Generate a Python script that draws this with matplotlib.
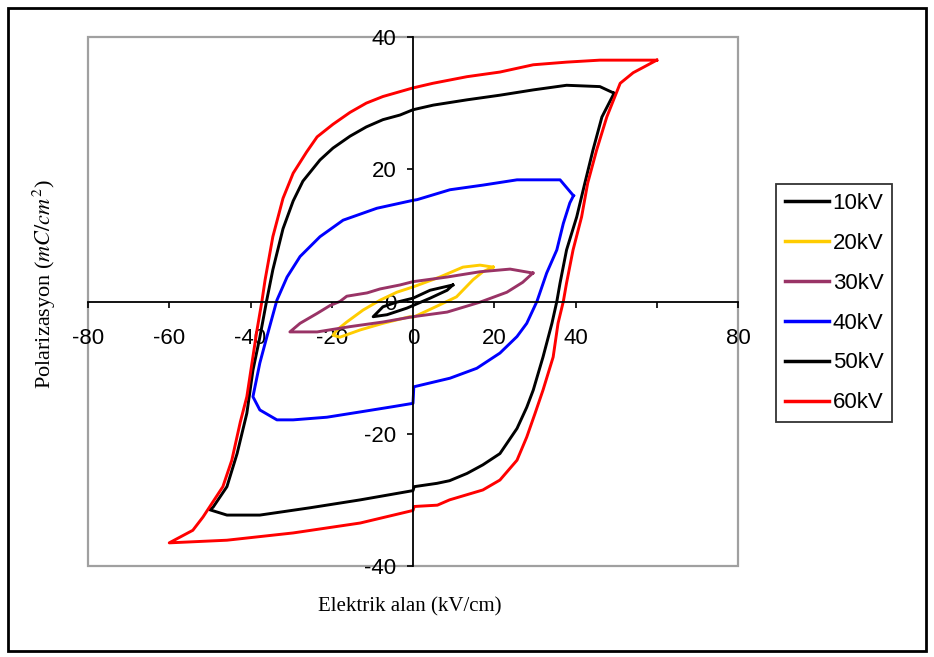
import matplotlib
matplotlib.use("Agg")
import matplotlib.pyplot as plt
from matplotlib.patches import Rectangle

plt.rcParams['font.family'] = ['Liberation Sans', 'DejaVu Sans']
plt.rcParams['mathtext.fontset'] = 'stix'
plt.rcParams['axes.unicode_minus'] = False

# hysteresis loops: upper branch (right tip -> left tip), then lower branch back
e10 = [9.8, 4.2, 0, -4, -7.4, -9.8, -6.4, -1.5, 4.2, 8.4, 9.8]
p10 = [2.5, 1.7, 0.5, -0.1, -0.8, -2.3, -2.0, -1.0, 0.5, 1.7, 2.5]

e20 = [19.7, 16.5, 12.3, 6.6, 0, -4, -8.1, -12.3, -16.3, -18.7, -19.7,
       -18, -13, -7.4, -0.8, 0, 6.6, 10.7, 14.8, 17.2, 19.7]
p20 = [5.2, 5.5, 5.2, 3.7, 2.2, 1.4, 0.2, -1.3, -3.1, -4.3, -5.1,
       -5.4, -4.3, -3.3, -2.3, -2.4, -0.5, 0.7, 3.3, 4.5, 5.2]

e30 = [29.5, 23.9, 16.5, 8.4, 0, -3.2, -8.1, -11.3, -16.3, -18, -20.4, -23.6, -27.8, -30.3,
       -23.6, -15.5, -7.4, 0, 8.4, 16.5, 23.1, 27, 29.5]
p30 = [4.3, 4.9, 4.5, 3.7, 3.0, 2.5, 1.9, 1.3, 0.8, 0.0, -0.6, -1.8, -3.3, -4.6,
       -4.6, -3.8, -3.1, -2.3, -1.6, -0.1, 1.4, 2.9, 4.3]

e40 = [39.5, 36.2, 25.6, 17.2, 9.1, 1, 0, -8.9, -17.2, -22.9, -27.8, -31, -33.5, -36, -37.7, -39.4,
       -37.7, -33.5, -29.5, -21.2, -13, -4.9, 0, 0.2, 9.1, 15.7, 21.4, 25.6, 28, 30.5, 32.9, 35.4,
       37, 38.6, 39.5]
p40 = [16.0, 18.4, 18.4, 17.6, 16.9, 15.4, 15.3, 14.1, 12.3, 9.8, 6.8, 3.7, 0.2, -5.4, -9.3, -14.4,
       -16.4, -17.9, -17.9, -17.5, -16.7, -15.9, -15.4, -12.9, -11.6, -10.1, -7.8, -5.3, -3.3, 0.0, 4.3, 7.8,
       11.8, 14.9, 16.0]

e50 = [49.5, 46, 37.8, 29.6, 21.4, 13.3, 5, 0, -3.2, -7.4, -11.5, -15.5, -19.7, -22.9, -27.1, -29.5, -32,
       -34.5, -36, -37.7, -39.4, -40.9, -43.3, -45.8, -49.2, -50,
       -45.8, -37.7, -25.4, -13, 0, 0.3, 5.9, 9, 13.3, 17.2, 21.4, 25.6, 28, 29.6, 32, 34.2, 35.4,
       36.2, 37.8, 40.3, 42.3, 44.3, 46.5, 49.5]
p50 = [31.5, 32.5, 32.7, 32.0, 31.2, 30.5, 29.7, 29.0, 28.2, 27.5, 26.4, 25.0, 23.2, 21.4, 18.2, 15.2, 11.0,
       4.8, 0.2, -5.4, -10.4, -16.9, -23.0, -28.0, -31.1, -31.5,
       -32.3, -32.3, -31.2, -30.0, -28.6, -28.0, -27.5, -27.1, -26.0, -24.7, -23.0, -19.2, -16.0, -13.4, -8.4, -3.3, 0.0,
       2.8, 7.8, 12.8, 17.9, 22.9, 27.9, 31.5]

e60 = [60, 55, 46, 37.8, 29.6, 21.4, 13.3, 4.9, 0, -7.4, -11.5, -15.5, -19.7, -23.6, -26.2, -29.5, -32,
       -34.5, -36.4, -37.2, -38.4, -40.9, -42.5, -44.6, -46.8, -51.7, -54.2, -60,
       -45.8, -29.5, -13, 0, 0.3, 6, 9, 17.2, 21.4, 25.6, 28, 30, 32, 34.5, 35.7, 37,
       37.8, 39.4, 41.5, 43, 45.2, 47.7, 51, 54.2, 60]
p60 = [36.5, 36.5, 36.5, 36.2, 35.8, 34.7, 34.0, 33.0, 32.3, 31.0, 30.0, 28.6, 26.8, 24.9, 22.6, 19.4, 15.6,
       9.8, 3.3, 0.0, -4.3, -14.4, -18.2, -24.0, -28.0, -32.6, -34.6, -36.5,
       -36.1, -35.0, -33.5, -31.6, -31.0, -30.8, -30.0, -28.5, -27.0, -24.0, -20.5, -17.0, -13.4, -8.4, -3.3, 0.0,
       2.8, 7.8, 12.8, 17.9, 22.9, 27.9, 33.0, 34.6, 36.5]

series = [
    ('10kV', e10, p10, '#000000'),
    ('20kV', e20, p20, '#FFCC00'),
    ('30kV', e30, p30, '#993366'),
    ('40kV', e40, p40, '#0000FF'),
    ('50kV', e50, p50, '#000000'),
    ('60kV', e60, p60, '#FF0000'),
]

x_ticks = [-80, -60, -40, -20, 0, 20, 40, 60, 80]
x_tick_labels = ['-80', '-60', '-40', '-20', '0', '20', '40', '', '80']
y_ticks = [-40, -20, 0, 20, 40]

W, H = 934, 657
fig = plt.figure(figsize=(W / 100, H / 100), dpi=100)
fig.patch.set_facecolor('white')

# outer chart border
fig.add_artist(Rectangle((8 / W, 1 - 651 / H), 918 / W, 643 / H, transform=fig.transFigure,
                         fill=False, edgecolor='black', linewidth=2))

ax = fig.add_axes([88 / W, 1 - 566 / H, 650 / W, 529 / H])
ax.set_xlim(-80, 80)
ax.set_ylim(-40, 40)

for name, e, p, c in series:
    ax.plot(e, p, color=c, linewidth=2.1, label=name)

# axes crossing at the origin, grey plot-area frame
ax.spines['left'].set_position(('data', 0))
ax.spines['bottom'].set_position(('data', 0))
ax.spines['top'].set_visible(False)
ax.spines['right'].set_visible(False)
for s in ('left', 'bottom'):
    ax.spines[s].set_linewidth(1.3)
    ax.spines[s].set_color('black')
ax.add_patch(Rectangle((0, 0), 1, 1, transform=ax.transAxes, fill=False,
                       edgecolor='#a0a0a0', linewidth=1.6, clip_on=False, zorder=0))

ax.set_xticks(x_ticks)
ax.set_xticklabels(x_tick_labels)
ax.set_yticks(y_ticks)
ax.tick_params(direction='out', length=4, width=1.2, labelsize=16)
ax.tick_params(axis='x', pad=15)
ax.tick_params(axis='y', pad=8)

fig.text(410 / W, 1 - 607 / H, 'Elektrik alan (kV/cm)', ha='center', va='center',
         fontsize=15, family='Liberation Serif')
fig.text(44 / W, 1 - 284 / H, r'Polarizasyon ($mC/cm^2$)', ha='center', va='center',
         rotation=90, fontsize=16, family='Liberation Serif')

leg = fig.legend(loc='upper left', bbox_to_anchor=(776 / W, 1 - 184 / H),
                 bbox_transform=fig.transFigure, fontsize=16, frameon=True,
                 fancybox=False, borderaxespad=0, handlelength=2.0, handletextpad=0.15,
                 labelspacing=0.85, borderpad=0.4)
leg.get_frame().set_edgecolor('black')
leg.get_frame().set_linewidth(1.3)
for line in leg.get_lines():
    line.set_linewidth(2.5)

fig.savefig('out.png', dpi=100)
